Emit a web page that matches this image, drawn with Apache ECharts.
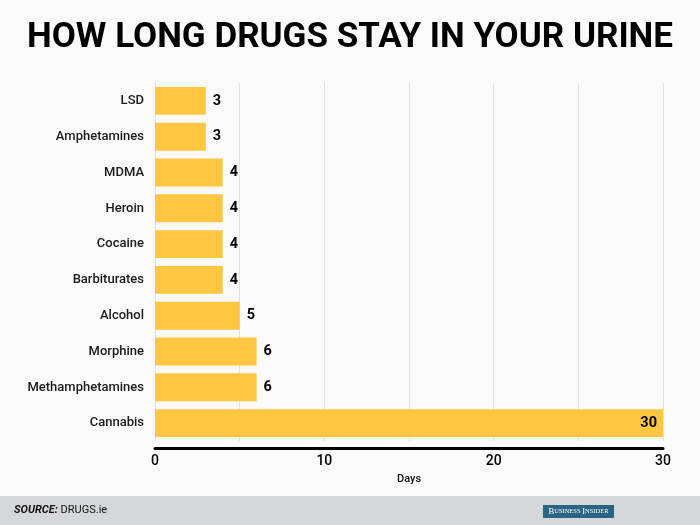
<!DOCTYPE html>
<html>
<head>
<meta charset="utf-8">
<script src="https://cdn.jsdelivr.net/npm/echarts@6/dist/echarts.min.js"></script>
<style>
html,body{margin:0;padding:0;background:#fafafa;}
#c{width:700px;height:525px;}
</style>
</head>
<body>
<div id="c"></div>
<script>
const categories = ['LSD','Amphetamines','MDMA','Heroin','Cocaine','Barbiturates','Alcohol','Morphine','Methamphetamines','Cannabis'];
const days = [3,3,4,4,4,4,5,6,6,30];
const xTicks = [0,10,20,30];

const chart = echarts.init(document.getElementById('c'));
chart.setOption({
  backgroundColor:'#fafafa',
  animation:false,
  title:{
    text:'HOW LONG DRUGS STAY IN YOUR URINE',
    left:'center', top:16,
    textStyle:{fontFamily:'Roboto',fontWeight:'bold',fontSize:35,color:'#000'}
  },
  grid:{left:155,right:37,top:83,bottom:84,containLabel:false},
  xAxis:{
    type:'value',min:0,max:30,interval:5,offset:7,
    name:'Days',nameLocation:'middle',nameGap:26,
    nameTextStyle:{fontFamily:'Roboto',fontSize:11,fontWeight:500,color:'#111'},
    axisLine:{show:true,lineStyle:{color:'#000',width:3}},
    axisTick:{show:false},
    axisLabel:{fontFamily:'Roboto',fontSize:14,fontWeight:500,color:'#000',margin:6,
      formatter:v=>xTicks.includes(v)?String(v):''},
    splitLine:{show:true,lineStyle:{color:'#e2e2e2',width:1}}
  },
  yAxis:{
    type:'category',data:categories,inverse:true,
    axisLine:{show:false},axisTick:{show:false},
    axisLabel:{fontFamily:'Roboto',fontSize:13,fontWeight:500,color:'#1a1a1a',margin:11}
  },
  series:[{
    type:'bar',data:days.map((v,i)=>({value:v,label:i===days.length-1?{position:'insideRight',distance:6}:{}})),
    barCategoryGap:'22%',
    itemStyle:{color:'#fec641'},
    label:{show:true,position:'right',distance:7,fontFamily:'Roboto',fontWeight:'bold',fontSize:14.5,color:'#000'}
  }],
  graphic:[
    {type:'rect',left:0,top:496,shape:{width:700,height:29},style:{fill:'#d4d8d8'},z:-1},
    {type:'text',left:14,top:505,style:{text:'{b|SOURCE:} DRUGS.ie',rich:{b:{fontFamily:'Roboto',fontWeight:'bold',fontStyle:'italic',fontSize:11,fill:'#111'}},fontFamily:'Roboto',fontSize:11,fill:'#111'}},
    {type:'rect',left:543,top:505,shape:{width:71,height:13},style:{fill:'#2a6482'},
      textContent:{style:{text:'{a|B}{b|USINESS} {a|I}{b|NSIDER}',
        rich:{a:{fontFamily:'Liberation Serif',fontSize:8.5,fill:'#fff'},b:{fontFamily:'Liberation Serif',fontSize:6.5,fill:'#fff'}},
        fontFamily:'Liberation Serif',fontSize:6.5,fill:'#fff'}},
      textConfig:{position:'inside'}}
  ]
});
</script>
</body>
</html>
